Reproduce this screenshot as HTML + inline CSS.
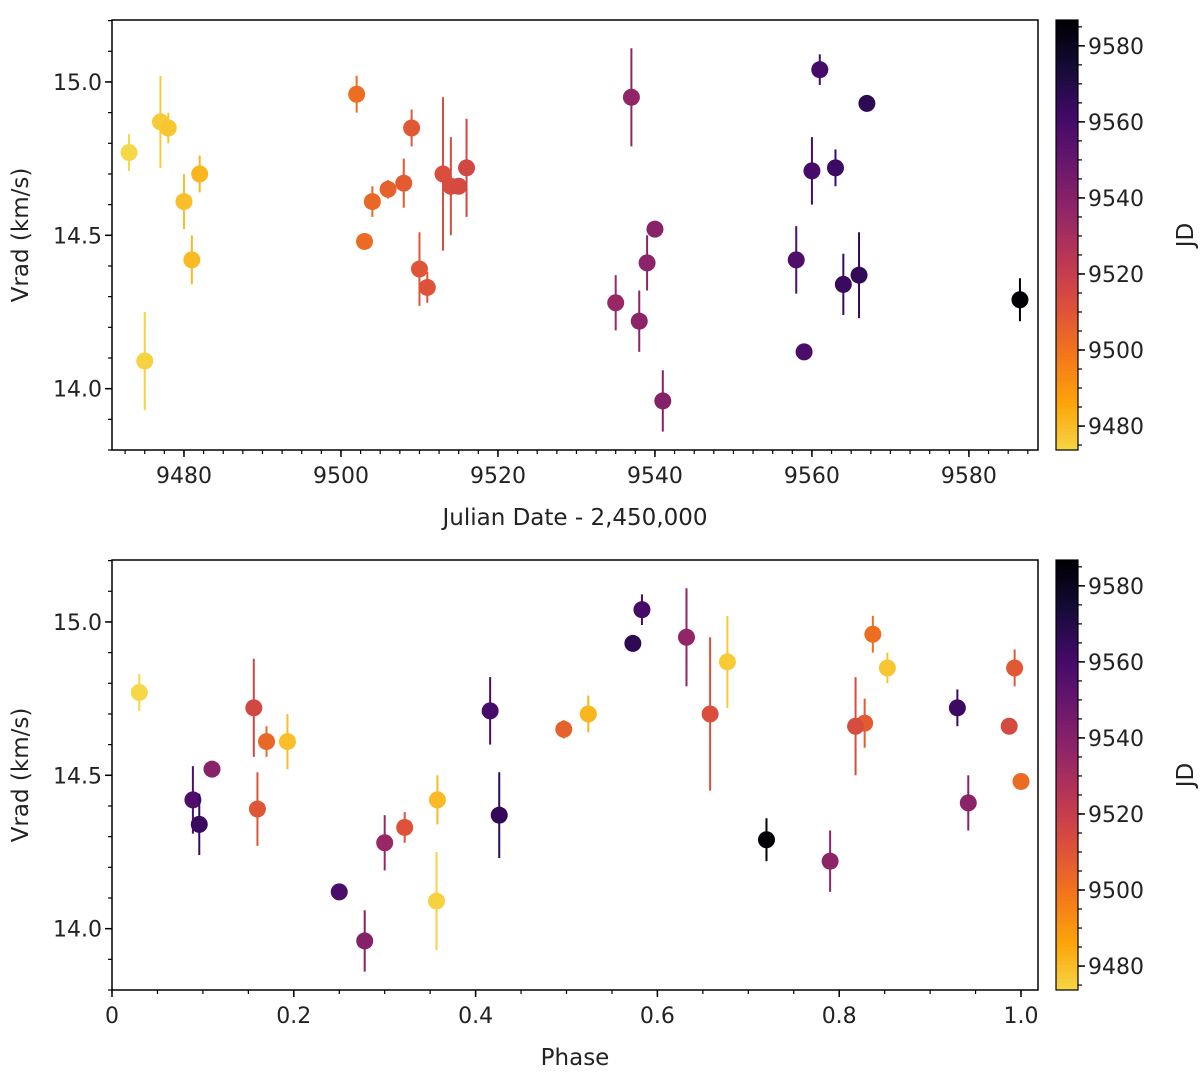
<!DOCTYPE html>
<html><head><meta charset="utf-8"><style>
body{margin:0;background:#fff;width:1200px;height:1075px;overflow:hidden;font-family:"Liberation Sans","DejaVu Sans",sans-serif}
svg text{font-family:"DejaVu Sans","Liberation Sans",sans-serif;fill:#222}
</style></head><body>
<svg id="c" width="1200" height="1075"></svg>
<script>
const jd=[9473,9475,9477,9478,9480,9481,9482,9502,9503,9504,9506,9508,9509,9510,9511,9513,9514,9515,9516,9535,9537,9538,9539,9540,9541,9558,9559,9560,9561,9563,9564,9566,9567,9586.5];
const vrad=[14.77,14.09,14.87,14.85,14.61,14.42,14.70,14.96,14.48,14.61,14.65,14.67,14.85,14.39,14.33,14.70,14.66,14.66,14.72,14.28,14.95,14.22,14.41,14.52,13.96,14.42,14.12,14.71,15.04,14.72,14.34,14.37,14.93,14.29];
const verr=[0.06,0.16,0.15,0.05,0.09,0.08,0.06,0.06,0.02,0.05,0.03,0.08,0.06,0.12,0.05,0.25,0.16,0.02,0.16,0.09,0.16,0.1,0.09,0.02,0.1,0.11,0.02,0.11,0.05,0.06,0.1,0.14,0.02,0.07];
const phase=[0.03,0.357,0.677,0.853,0.193,0.358,0.524,0.837,1.0,0.17,0.497,0.828,0.993,0.16,0.322,0.658,0.818,0.987,0.156,0.30,0.632,0.79,0.942,0.11,0.278,0.089,0.25,0.416,0.583,0.93,0.096,0.426,0.573,0.72];
const jdTicks=[9480,9500,9520,9540,9560,9580];
const phTicks=[0,0.2,0.4,0.6,0.8,1.0];
const phLabels=["0","0.2","0.4","0.6","0.8","1.0"];
const vTicks=[14.0,14.5,15.0];
const cbTicks=[9480,9500,9520,9540,9560,9580];

const NS="http://www.w3.org/2000/svg";
const svg=document.getElementById('c');
function mk(t,a,p){const e=document.createElementNS(NS,t);for(const k in a)e.setAttribute(k,a[k]);(p||svg).appendChild(e);return e;}
const stops=[[0,'#000004'],[0.1,'#160b39'],[0.2,'#420a68'],[0.3,'#6a176e'],[0.4,'#932667'],[0.5,'#bc3754'],[0.6,'#dd513a'],[0.7,'#f37819'],[0.8,'#fca50a'],[0.9,'#f6d746']];
function hx(h){return [1,3,5].map(i=>parseInt(h.substr(i,2),16));}
function inferno(t){t=Math.max(0,Math.min(0.9,t));for(let i=1;i<stops.length;i++){if(t<=stops[i][0]){const a=hx(stops[i-1][1]),b=hx(stops[i][1]);const f=(t-stops[i-1][0])/(stops[i][0]-stops[i-1][0]);return 'rgb('+a.map((v,j)=>Math.round(v+(b[j]-v)*f)).join(',')+')';}}return stops[9][1];}
const JDMIN=9473.7,JDMAX=9586.8;
function col(j){return inferno((JDMAX-j)/(JDMAX-JDMIN)*0.9);}

function panel(top,xs,xTicks,xLabels,xMinorStep,xMin,xMax,xTitle,name){
  const L=112,R=1038,T=top,B=top+430;
  const X=v=>L+(v-xMin)/(xMax-xMin)*(R-L);
  const Y=v=>B-(v-13.80)/(15.202-13.80)*(B-T);
  const g=mk('g',{});  
  mk('rect',{x:L,y:T,width:R-L,height:B-T,fill:'none',stroke:'#000','stroke-width':1.5},g);
  for(let v=xMin-(xMin%xMinorStep);v<=xMax;v+=xMinorStep){if(v<xMin)continue;const x=X(v);mk('line',{x1:x,x2:x,y1:B,y2:B+4,stroke:'#000','stroke-width':1.2},g);}
  xTicks.forEach((v,i)=>{const x=X(v);mk('line',{x1:x,x2:x,y1:B,y2:B+7,stroke:'#000','stroke-width':1.5},g);const t=mk('text',{x:x,y:B+33,'font-size':22,'text-anchor':'middle'},g);t.textContent=xLabels[i];});
  for(let v=13.8;v<=15.21;v+=0.1){const y=Y(v);mk('line',{x1:L-4,x2:L,y1:y,y2:y,stroke:'#000','stroke-width':1.2},g);}
  vTicks.forEach(v=>{const y=Y(v);mk('line',{x1:L-7,x2:L,y1:y,y2:y,stroke:'#000','stroke-width':1.5},g);const t=mk('text',{x:L-10,y:y+8,'font-size':22,'text-anchor':'end'},g);t.textContent=v.toFixed(1);});
  const xt=mk('text',{x:(L+R)/2,y:B+75,'font-size':23,'text-anchor':'middle'},g);xt.textContent=xTitle;
  const yt=mk('text',{x:0,y:0,'font-size':23,'text-anchor':'middle',transform:`translate(28,${(T+B)/2}) rotate(-90)`},g);yt.textContent='Vrad (km/s)';
  xs.forEach((xv,i)=>{const c=col(jd[i]);const x=X(xv);
    const eb=mk('line',{x1:x,x2:x,y1:Y(vrad[i]+verr[i]),y2:Y(vrad[i]-verr[i]),stroke:c,'stroke-width':2},g);
    
    const p=mk('circle',{cx:x,cy:Y(vrad[i]),r:8.5,fill:c},g);
    
    
  });
  const CL=1056,CR=1078;
  const cb=mk('g',{});  
  const n=120;for(let k=0;k<n;k++){const j=JDMAX-(JDMAX-JDMIN)*k/n;mk('rect',{x:CL,y:T+k*(B-T)/n,width:CR-CL,height:(B-T)/n+0.6,fill:col(j)},cb);}
  mk('rect',{x:CL,y:T,width:CR-CL,height:B-T,fill:'none',stroke:'#000','stroke-width':1.2},cb);
  const CY=v=>T+(JDMAX-v)/(JDMAX-JDMIN)*(B-T);
  for(let v=9475;v<=9585;v+=5){mk('line',{x1:CR,x2:CR+4,y1:CY(v),y2:CY(v),stroke:'#000','stroke-width':1.2},cb);}
  cbTicks.forEach(v=>{const y=CY(v);mk('line',{x1:CR,x2:CR+7,y1:y,y2:y,stroke:'#000','stroke-width':1.5},cb);const t=mk('text',{x:CR+10,y:y+8,'font-size':22},cb);t.textContent=v;});
  const ct=mk('text',{x:0,y:0,'font-size':23,'text-anchor':'middle',transform:`translate(1193,${(T+B)/2}) rotate(-90)`},cb);ct.textContent='JD';
}
panel(20,jd,jdTicks,jdTicks.map(String),2.5,9470.83,9588.8,'Julian Date - 2,450,000','top-panel-vrad-vs-jd');
panel(560,phase,phTicks,phLabels,0.05,0,1.0187,'Phase','bottom-panel-vrad-vs-phase');
</script>
</body></html>
